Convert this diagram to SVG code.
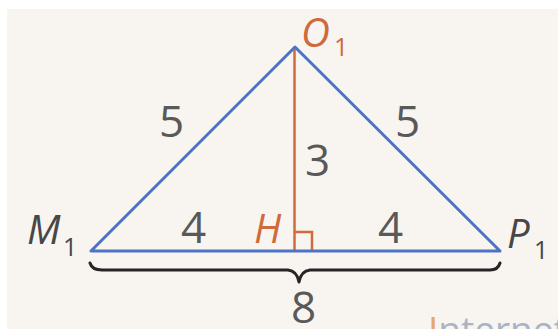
<svg xmlns="http://www.w3.org/2000/svg" width="558" height="329" viewBox="0 0 558 329">
<style>
.lbl{font-family:"Open Sans","Noto Sans",sans-serif;}
.num{font-size:44px;fill:#595959;}
.it{font-style:italic;font-size:40px;}
.sub{font-size:25px;}
.org{fill:#cf6a3b;}
.dark{fill:#474747;}
.side{stroke:#4e72c4;stroke-width:3;fill:none;stroke-linecap:round;stroke-linejoin:round;}
.alt{stroke:#d06b3c;stroke-width:2.5;fill:none;}
</style>
<rect x="0" y="0" width="558" height="329" fill="#ffffff"/>
<rect x="7" y="9" width="551" height="320" fill="#f8f4f0"/>
<g id="connectors">
  <line class="alt" x1="294.5" y1="48" x2="294.5" y2="251"/>
  <polyline class="alt" points="294.5,232 312,232 312,251"/>
  <polygon class="side" points="295,47 91,251 500,251"/>
  <path d="M90,263 Q92,270 102,270 L288,270 Q297,271 299,282 Q301,271 310,270 L490,270 Q498,270 500,263" fill="none" stroke="#252525" stroke-width="3" stroke-linecap="round" stroke-linejoin="round"/>
</g>
<g id="node-O1" class="lbl org">
  <text class="it" x="301" y="47">O</text>
  <text class="sub" x="334" y="56">1</text>
</g>
<g id="node-M1" class="lbl dark">
  <text class="it" x="27" y="244">M</text>
  <text class="sub" x="63" y="256">1</text>
</g>
<g id="node-P1" class="lbl dark">
  <text class="it" x="507" y="248">P</text>
  <text class="sub" x="534" y="259">1</text>
</g>
<g id="node-H" class="lbl org">
  <text class="it" x="254" y="243">H</text>
</g>
<g id="lengths" class="lbl num">
  <text x="159" y="137">5</text>
  <text x="395" y="137">5</text>
  <text x="305" y="176">3</text>
  <text x="181" y="243">4</text>
  <text x="378" y="243">4</text>
  <text x="291" y="323">8</text>
</g>
<g id="watermark" class="lbl" font-size="37">
  <text x="428" y="343"><tspan fill="#e9a66c">I</tspan><tspan fill="#a9b3c6">nternet</tspan></text>
</g>
</svg>
